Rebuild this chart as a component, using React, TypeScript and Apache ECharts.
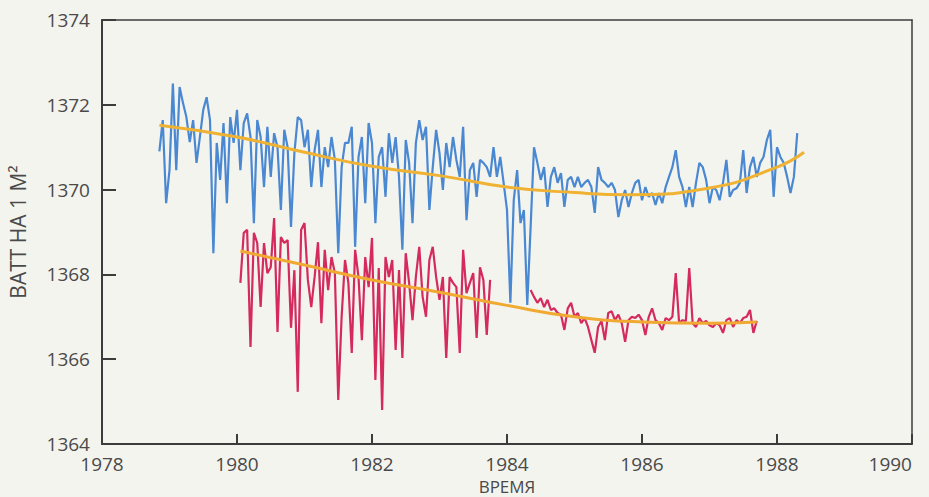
import React, { useEffect, useRef } from "react";
import * as echarts from "echarts";

// Tick labels / axis ranges
const yTicks = [1364, 1366, 1368, 1370, 1372, 1374];
const xTicks = [1978, 1980, 1982, 1984, 1986, 1988, 1990];

// Sampling of the measured series (years)
const sampleStep = 0.05;
const blueStart = 1978.85;
const red1Start = 1980.05;
const red2Start = 1984.35;

// Satellite 1 (blue), W/m^2
const blueValues = [
  1370.9, 1371.64, 1369.68, 1370.46, 1372.5, 1370.46, 1372.42, 1372.04, 1371.71, 1371.12,
  1371.64, 1370.63, 1371.24, 1371.88, 1372.18, 1371.64, 1368.5, 1371.1, 1370.23, 1371.57,
  1369.68, 1371.71, 1371.1, 1371.88, 1370.46, 1371.57, 1371.8, 1371.24, 1369.21, 1371.64,
  1371.24, 1370.06, 1371.48, 1370.3, 1371.33, 1371.0, 1369.52, 1371.41, 1371.0, 1369.12,
  1370.86, 1371.71, 1371.64, 1371.0, 1371.41, 1370.06, 1370.93, 1371.41, 1370.06, 1371.0,
  1370.53, 1371.24, 1370.7, 1368.5, 1370.53, 1371.1, 1371.1, 1371.48, 1368.65, 1370.77,
  1371.24, 1369.68, 1371.57, 1371.1, 1369.21, 1370.77, 1371.0, 1369.83, 1371.33, 1370.63,
  1371.24, 1370.3, 1368.58, 1371.17, 1370.63, 1369.21, 1371.1, 1371.64, 1371.17, 1371.48,
  1369.52, 1370.53, 1371.41, 1370.86, 1369.99, 1371.1, 1370.53, 1371.24, 1370.7, 1370.3,
  1371.48, 1369.28, 1370.46, 1370.63, 1369.83, 1370.7, 1370.63, 1370.53, 1370.3, 1371.0,
  1370.3, 1370.77, 1370.16, 1369.52, 1367.33, 1369.75, 1370.46, 1369.21, 1369.52, 1367.28,
  1369.12, 1371.0, 1370.63, 1370.23, 1370.53, 1369.59, 1370.3, 1370.53, 1370.16, 1370.39,
  1369.59, 1370.23, 1370.3, 1370.06, 1370.3, 1370.06, 1370.16, 1370.23, 1370.06, 1369.45,
  1370.53, 1370.23, 1370.16, 1370.06, 1370.16, 1369.99, 1369.35, 1369.75, 1369.99, 1369.59,
  1369.92, 1370.16, 1370.23, 1369.75, 1370.06, 1369.83, 1369.92, 1369.64, 1369.92, 1369.68,
  1370.06, 1370.3, 1370.53, 1370.93, 1370.3, 1370.06, 1369.59, 1370.06, 1369.59, 1370.16,
  1370.63, 1370.53, 1370.23, 1369.68, 1370.06, 1369.99, 1369.75, 1370.16, 1370.7, 1369.83,
  1369.99, 1370.03, 1370.16, 1370.93, 1369.92, 1370.53, 1370.77, 1370.3, 1370.63, 1370.77,
  1371.17, 1371.41, 1369.83, 1371.0, 1370.77, 1370.63, 1370.3, 1369.92, 1370.3, 1371.33,
];

// Satellite 2 (red), first segment
const red1Values = [
  1367.8, 1368.98, 1369.05, 1366.29, 1368.98, 1368.74, 1367.23, 1368.74, 1368.03, 1368.17,
  1369.33, 1366.64, 1368.88, 1368.74, 1368.81, 1366.74, 1368.1, 1365.23, 1369.05, 1369.21,
  1367.87, 1367.23, 1367.94, 1368.76, 1366.85, 1368.58, 1367.63, 1368.41, 1368.03, 1365.04,
  1367.0, 1368.34, 1367.8, 1366.15, 1368.58, 1367.94, 1366.45, 1368.41, 1367.7, 1368.86,
  1365.51, 1368.15, 1364.8, 1368.41, 1367.94, 1368.34, 1366.22, 1368.1, 1366.03, 1368.5,
  1367.8, 1366.92, 1367.94, 1368.65, 1367.47, 1367.0, 1368.34, 1368.65, 1367.94, 1367.4,
  1367.94, 1366.03, 1367.94, 1367.8, 1367.7, 1366.15, 1368.58, 1367.56, 1367.8, 1368.03,
  1366.5, 1368.17, 1367.87, 1366.57, 1367.87,
];

// Satellite 2 (red), second segment
const red2Values = [
  1367.63, 1367.47, 1367.33, 1367.44, 1367.23, 1367.4, 1367.16, 1367.2, 1367.09, 1367.05,
  1366.69, 1367.2, 1367.33, 1367.0, 1367.09, 1366.85, 1366.97, 1366.76, 1366.45, 1366.15,
  1366.76, 1366.9, 1366.45, 1367.09, 1367.13, 1366.92, 1367.05, 1366.85, 1366.41, 1366.92,
  1367.0, 1366.97, 1367.05, 1366.92, 1366.57, 1367.0, 1367.2, 1366.92, 1366.85, 1366.69,
  1366.97, 1366.92, 1367.0, 1368.03, 1366.85, 1366.92, 1366.9, 1368.15, 1366.85, 1366.76,
  1366.97, 1366.85, 1366.9, 1366.8, 1366.76, 1366.85, 1366.8, 1366.62, 1366.92, 1366.97,
  1366.76, 1366.92, 1366.85, 1366.97, 1367.0, 1367.16, 1366.62, 1366.9,
];

// Smooth trend curves
const blueTrendYears = [1978.85, 1980, 1981, 1982, 1983, 1984, 1985, 1985.8, 1987, 1988, 1988.4];
const blueTrendValues = [1371.52, 1371.24, 1370.88, 1370.55, 1370.33, 1370.06, 1369.93, 1369.88, 1370.04, 1370.53, 1370.88];
const redTrendYears = [1980.05, 1981, 1982, 1983, 1984, 1985, 1986, 1987, 1987.7];
const redTrendValues = [1368.55, 1368.22, 1367.87, 1367.58, 1367.27, 1367.0, 1366.88, 1366.85, 1366.88];

const yName = "ВАТТ НА 1 М²";
const xName = "ВРЕМЯ";

const toPairs = (start: number, vals: number[]) =>
  vals.map((v, i) => [+(start + i * sampleStep).toFixed(3), v]);
const zipPairs = (xs: number[], ys: number[]) => xs.map((x, i) => [x, ys[i]]);

export default function App() {
  const ref = useRef<HTMLDivElement>(null);
  useEffect(() => {
    if (!ref.current) return;
    const chart = echarts.init(ref.current, null, { renderer: "svg" });
    const font = "'Open Sans', 'DejaVu Sans', sans-serif";
    const axisColor = "#3c3c3c";
    const labelColor = "#4a4a4a";
    const xMin = xTicks[0];
    const xMax = xTicks[xTicks.length - 1];
    const yMin = yTicks[0];
    const yMax = yTicks[yTicks.length - 1];
    const frameAxis = {
      type: "value",
      axisLine: { show: true, onZero: false, lineStyle: { color: axisColor, width: 1.5 } },
      axisTick: { show: false },
      axisLabel: { show: false },
      splitLine: { show: false },
    };
    chart.setOption({
      animation: false,
      backgroundColor: "#f4f4ef",
      grid: {
        left: 102,
        right: 17,
        top: 20,
        bottom: 53,
        containLabel: false,
        outerBoundsMode: "none",
      },
      xAxis: [
        {
          type: "value",
          min: xMin,
          max: xMax,
          interval: 2,
          name: xName,
          nameLocation: "middle",
          nameGap: 28,
          nameTextStyle: { fontFamily: font, fontSize: 17, lineHeight: 18, color: labelColor },
          axisLine: { show: true, onZero: false, lineStyle: { color: axisColor, width: 2 } },
          axisTick: { show: true, inside: true, length: 10, lineStyle: { color: axisColor, width: 2 } },
          axisLabel: {
            fontFamily: font,
            fontSize: 19,
            color: labelColor,
            margin: 10,
            alignMaxLabel: "right",
            formatter: (v: number) => String(v),
          },
          splitLine: { show: false },
        },
        { ...frameAxis, position: "top", min: xMin, max: xMax },
      ],
      yAxis: [
        {
          type: "value",
          min: yMin,
          max: yMax,
          interval: 2,
          name: yName,
          nameLocation: "middle",
          nameGap: 74,
          nameRotate: 90,
          nameTextStyle: { fontFamily: font, fontSize: 21, color: labelColor },
          axisLine: { show: true, onZero: false, lineStyle: { color: axisColor, width: 2 } },
          axisTick: { show: true, inside: true, length: 14, lineStyle: { color: axisColor, width: 2 } },
          axisLabel: {
            fontFamily: font,
            fontSize: 19,
            color: labelColor,
            margin: 12,
            formatter: (v: number) => String(v),
          },
          splitLine: { show: false },
        },
        { ...frameAxis, position: "right", min: yMin, max: yMax },
      ],
      series: [
        {
          type: "line",
          data: toPairs(blueStart, blueValues),
          symbol: "none",
          lineStyle: { color: "#4a88d2", width: 2.2 },
          z: 2,
        },
        {
          type: "line",
          data: toPairs(red1Start, red1Values),
          symbol: "none",
          lineStyle: { color: "#d42a5c", width: 2.2 },
          z: 2,
        },
        {
          type: "line",
          data: toPairs(red2Start, red2Values),
          symbol: "none",
          lineStyle: { color: "#d42a5c", width: 2.2 },
          z: 2,
        },
        {
          type: "line",
          data: zipPairs(blueTrendYears, blueTrendValues),
          symbol: "none",
          smooth: 0.5,
          lineStyle: { color: "#f0b232", width: 3 },
          z: 3,
        },
        {
          type: "line",
          data: zipPairs(redTrendYears, redTrendValues),
          symbol: "none",
          smooth: 0.5,
          lineStyle: { color: "#f0aa32", width: 3 },
          z: 3,
        },
      ],
    });
    return () => chart.dispose();
  }, []);
  return (
    <div
      ref={ref}
      style={{ position: "absolute", left: 0, top: 0, width: 929, height: 497 }}
    />
  );
}
